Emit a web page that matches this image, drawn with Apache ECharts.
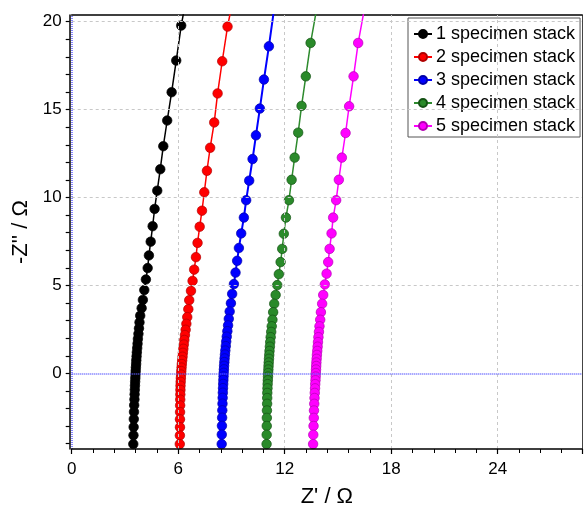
<!DOCTYPE html>
<html>
<head>
<meta charset="utf-8">
<script src="https://cdn.jsdelivr.net/npm/echarts@6/dist/echarts.min.js"></script>
<style>html,body{margin:0;padding:0;background:#fff}#c{width:584px;height:513px}</style>
</head>
<body>
<div id="c"></div>
<script>
// ---- data (Z', -Z'') ----
const seriesNames = ['1 specimen stack', '2 specimen stack', '3 specimen stack', '4 specimen stack', '5 specimen stack'];

const stack1 = [
  [6.58,22.0],[6.17,19.78],[5.89,17.79],[5.63,15.99],[5.38,14.38],[5.16,12.92],[4.99,11.61],[4.82,10.39],
  [4.67,9.35],[4.56,8.37],[4.45,7.49],[4.35,6.71],[4.28,5.99],[4.18,5.34],[4.09,4.74],[4.01,4.18],[3.94,3.71],
  [3.86,3.28],[3.82,2.90],[3.79,2.56],[3.76,2.25],[3.73,1.96],[3.71,1.69],[3.69,1.44],[3.67,1.20],[3.655,0.97],
  [3.64,0.75],[3.63,0.54],[3.615,0.34],[3.605,0.14],[3.595,-0.06],[3.585,-0.26],[3.575,-0.47],[3.565,-0.69],
  [3.555,-0.93],[3.545,-1.19],[3.535,-1.48],[3.52,-1.81],[3.51,-2.19],[3.50,-2.60],[3.49,-3.05],[3.48,-3.52],[3.47,-4.02]
];
const stack2 = [
  [9.21,21.9],[8.78,19.72],[8.48,17.75],[8.22,15.92],[8.03,14.27],[7.80,12.83],[7.62,11.52],[7.47,10.30],
  [7.34,9.25],[7.21,8.34],[7.09,7.42],[7.00,6.61],[6.90,5.90],[6.81,5.26],[6.72,4.69],[6.62,4.16],[6.57,3.65],
  [6.51,3.20],[6.46,2.82],[6.42,2.48],[6.38,2.18],[6.345,1.90],[6.315,1.64],[6.29,1.40],[6.265,1.17],[6.245,0.95],
  [6.225,0.74],[6.205,0.53],[6.19,0.33],[6.175,0.13],[6.16,-0.07],[6.15,-0.27],[6.14,-0.48],[6.13,-0.70],
  [6.125,-0.94],[6.12,-1.20],[6.115,-1.49],[6.11,-1.82],[6.105,-2.20],[6.10,-2.61],[6.10,-3.06],[6.095,-3.53],[6.09,-4.02]
];
const stack3 = [
  [11.40,20.7],[11.11,18.60],[10.83,16.71],[10.60,15.06],[10.38,13.54],[10.19,12.19],[10.00,10.96],[9.83,9.85],
  [9.70,8.86],[9.55,7.96],[9.42,7.13],[9.32,6.40],[9.23,5.73],[9.14,5.08],[9.04,4.52],[8.97,3.99],[8.90,3.52],
  [8.85,3.10],[8.81,2.73],[8.77,2.40],[8.735,2.09],[8.705,1.81],[8.68,1.55],[8.655,1.30],[8.635,1.07],[8.615,0.85],
  [8.60,0.64],[8.585,0.43],[8.575,0.23],[8.565,0.03],[8.555,-0.17],[8.545,-0.38],[8.535,-0.60],[8.525,-0.84],
  [8.515,-1.10],[8.505,-1.39],[8.495,-1.72],[8.485,-2.10],[8.475,-2.52],[8.465,-2.98],[8.455,-3.48],[8.45,-4.02]
];
const stack4 = [
  [13.83,20.9],[13.46,18.79],[13.19,16.89],[12.95,15.21],[12.76,13.69],[12.56,12.27],[12.39,11.01],[12.24,9.85],
  [12.07,8.86],[11.95,7.94],[11.86,7.08],[11.77,6.33],[11.67,5.64],[11.58,5.02],[11.49,4.46],[11.41,3.96],[11.35,3.48],
  [11.31,3.05],[11.27,2.68],[11.24,2.36],[11.21,2.06],[11.185,1.78],[11.165,1.52],[11.145,1.28],[11.13,1.05],[11.115,0.83],
  [11.10,0.62],[11.09,0.42],[11.08,0.22],[11.07,0.02],[11.06,-0.18],[11.05,-0.39],[11.04,-0.61],[11.03,-0.85],
  [11.02,-1.11],[11.015,-1.40],[11.01,-1.73],[11.00,-2.11],[10.995,-2.53],[10.99,-2.99],[10.985,-3.49],[10.98,-4.02]
];
const stack5 = [
  [16.52,20.9],[16.14,18.79],[15.88,16.89],[15.63,15.19],[15.43,13.67],[15.22,12.27],[15.05,11.01],[14.90,9.85],
  [14.73,8.86],[14.64,7.96],[14.53,7.08],[14.45,6.33],[14.36,5.67],[14.26,5.06],[14.17,4.46],[14.11,3.96],[14.04,3.48],
  [14.00,3.05],[13.96,2.68],[13.93,2.36],[13.90,2.06],[13.875,1.78],[13.855,1.52],[13.835,1.28],[13.815,1.05],[13.80,0.83],
  [13.785,0.62],[13.775,0.42],[13.765,0.22],[13.755,0.02],[13.745,-0.18],[13.735,-0.39],[13.72,-0.61],[13.71,-0.85],
  [13.695,-1.11],[13.68,-1.40],[13.665,-1.73],[13.65,-2.11],[13.64,-2.53],[13.625,-2.99],[13.61,-3.49],[13.60,-4.02]
];

const xLabelValues = [0, 6, 12, 18, 24];
const yLabelValues = [0, 5, 10, 15, 20];
const yTickValues = [-4,-3,-2,-1,0,1,2,3,4,5,6,7,8,9,10,11,12,13,14,15,16,17,18,19,20];
const gridX = [6, 12, 18, 24];
const gridY = [5, 10, 15, 20];
const zeroX = [0];
const zeroY = [0];

const X_MIN = 0, X_MAX = 28.75, Y_MIN = -4.3, Y_MAX = 20.38;

const FONT = '"Liberation Sans", Arial, sans-serif';
const ZERO_BLUE = '#5c5cff';
const styles = [
  {line: '#000000', fill: '#000000', border: '#000000', lw: 1.5},
  {line: '#ff0000', fill: '#ff0000', border: '#b00000', lw: 1.5},
  {line: '#0000ff', fill: '#0000ff', border: '#0000a8', lw: 2},
  {line: '#2e8b2e', fill: '#2a8a2a', border: '#145214', lw: 1.5},
  {line: '#ff00ff', fill: '#ff00ff', border: '#b400b4', lw: 1.5}
];
const datasets = [stack1, stack2, stack3, stack4, stack5];

const chart = echarts.init(document.getElementById('c'), null, {renderer: 'canvas'});

const lineSeries = datasets.map((d, i) => ({
  name: seriesNames[i],
  type: 'line',
  data: d,
  z: 3,
  clip: true,
  symbol: 'circle',
  symbolSize: 9.5,
  showSymbol: true,
  showAllSymbol: true,
  lineStyle: {color: styles[i].line, width: styles[i].lw},
  itemStyle: {color: styles[i].fill, borderColor: styles[i].border, borderWidth: 0.7},
  emphasis: {disabled: true},
  silent: true
}));

function refLines(name, color, type, width, xs, ys) {
  return {
    name: name,
    type: 'line',
    data: [],
    z: 1,
    silent: true,
    markLine: {
      silent: true,
      symbol: ['none', 'none'],
      label: {show: false},
      animation: false,
      lineStyle: {color: color, type: type, width: width},
      data: [...xs.map(v => ({xAxis: v})), ...ys.map(v => ({yAxis: v}))]
    }
  };
}

const hidden = {axisTick: {show: false}, axisLabel: {show: false}, splitLine: {show: false}};

chart.setOption({
  animation: false,
  backgroundColor: '#fff',
  textStyle: {fontFamily: FONT},
  grid: {left: 71.7, right: 2, top: 15, bottom: 58.7, containLabel: false},
  legend: {
    data: seriesNames,
    orient: 'vertical',
    left: 408,
    top: 18,
    backgroundColor: '#fff',
    borderColor: '#555',
    borderWidth: 1,
    padding: [7, 5, 2, 5],
    itemGap: 5,
    itemWidth: 18,
    itemHeight: 10,
    textStyle: {fontSize: 18, color: '#000', fontFamily: FONT, padding: [0, 0, 0, -1]},
    selectedMode: false
  },
  xAxis: [
    {
      type: 'value', min: X_MIN, max: X_MAX, interval: 6, position: 'bottom',
      name: "Z' / Ω", nameLocation: 'middle', nameGap: 37,
      nameTextStyle: {fontSize: 22, color: '#000', fontFamily: FONT},
      axisLine: {show: true, onZero: false, lineStyle: {color: '#000', width: 1.5}},
      axisTick: {show: true, inside: false, length: 5, lineStyle: {color: '#000', width: 1.2}},
      minorTick: {show: true, splitNumber: 5, length: 4, lineStyle: {color: '#000', width: 1}},
      axisLabel: {customValues: xLabelValues, fontSize: 17, color: '#000', margin: 12, fontFamily: FONT},
      splitLine: {show: false},
      z: 5
    },
    Object.assign({
      type: 'value', min: X_MIN, max: X_MAX, position: 'top',
      axisLine: {show: true, onZero: false, lineStyle: {color: '#000', width: 1.5}}
    }, hidden)
  ],
  yAxis: [
    {
      type: 'value', min: Y_MIN, max: Y_MAX, position: 'left', offset: 2,
      name: "-Z'' / Ω", nameLocation: 'middle', nameGap: 33,
      nameTextStyle: {fontSize: 22, color: '#000', fontFamily: FONT},
      axisLine: {show: true, onZero: false, lineStyle: {color: '#000', width: 1.5}},
      axisTick: {show: true, inside: false, customValues: yTickValues, length: 4, lineStyle: {color: '#000', width: 1.2}},
      axisLabel: {customValues: yLabelValues, fontSize: 17, color: '#000', margin: 8, fontFamily: FONT},
      splitLine: {show: false}
    },
    Object.assign({
      type: 'value', min: Y_MIN, max: Y_MAX, position: 'right',
      axisLine: {show: true, onZero: false, lineStyle: {color: '#444', width: 1}}
    }, hidden)
  ],
  series: [
    refLines('_grid', '#c8c8c8', [3, 3], 1, gridX, gridY),
    refLines('_zero', ZERO_BLUE, [1, 1], 1.5, zeroX, zeroY),
    ...lineSeries
  ]
});
</script>
</body>
</html>
